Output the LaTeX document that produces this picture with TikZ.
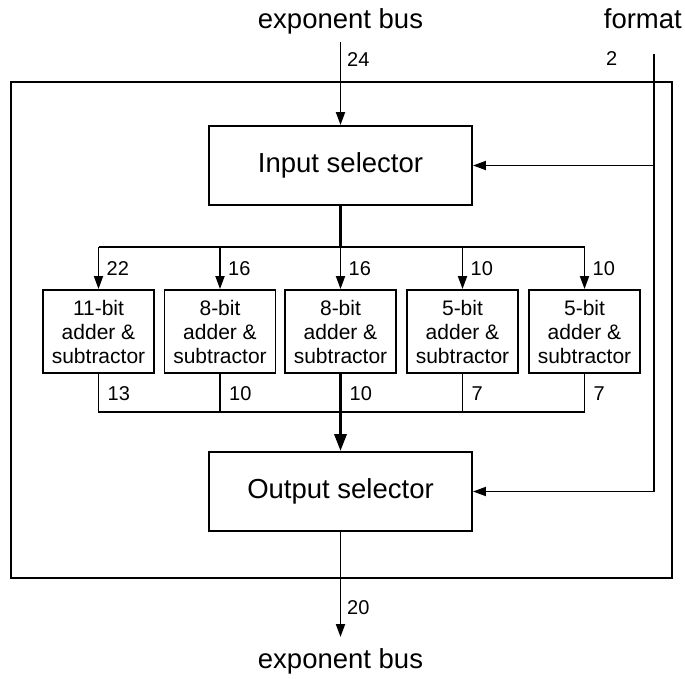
\documentclass[tikz,border=0pt]{standalone}
\usepackage{fontspec}
\setmainfont{Liberation Sans}
\usetikzlibrary{arrows.meta}
\begin{document}
\begin{tikzpicture}[x=1pt,y=-1pt,
  ln/.style={line width=1.9pt},
  bus/.style={line width=3.2pt},
  arr/.style={-{Triangle[length=13pt,width=9pt]}},
  barr/.style={-{Triangle[length=17pt,width=12pt]}},
  selbox/.style={draw,line width=1.9pt,minimum width=263pt,minimum height=79pt,inner sep=0pt,font=\fontsize{27.5}{30}\selectfont},
  addbox/.style={draw,line width=1.9pt,minimum width=111pt,minimum height=83pt,inner sep=0pt,align=center,font=\fontsize{21}{24}\selectfont},
  num/.style={anchor=base west,inner sep=0pt,font=\fontsize{20}{22}\selectfont},
  big/.style={anchor=base,inner sep=0pt,font=\fontsize{27.5}{30}\selectfont}]
\useasboundingbox (0,0) rectangle (685,679);
% outer frame
\draw[ln] (11,82) rectangle (672,578);
% texts
\node[big] (tin) at (340.5,29) {exponent bus};
\node[big,anchor=base east] (tfmt) at (682,29) {format};
\node[big] (tout) at (340.5,668) {exponent bus};
% selectors
\node[selbox] (insel) at (340.5,165.5) {Input selector};
\node[selbox] (outsel) at (340.5,491.5) {Output selector};
% adders
\node[addbox] (a1) at (98.5,331.5) {11-bit\\adder \&\\subtractor};
\node[addbox] (a2) at (220,331.5) {8-bit\\adder \&\\subtractor};
\node[addbox] (a3) at (340.5,331.5) {8-bit\\adder \&\\subtractor};
\node[addbox] (a4) at (462.5,331.5) {5-bit\\adder \&\\subtractor};
\node[addbox] (a5) at (584.5,331.5) {5-bit\\adder \&\\subtractor};
% coordinates
\coordinate (inTop) at (340.5,42);
\coordinate (fmt) at (654,54);
\coordinate (tj) at (340.5,247);
\coordinate (bj) at (340.5,412);
\coordinate (bot) at (340.5,637);
% input bus
\draw[ln,arr] (inTop) -- (insel.north);
\node[num] (l24) at (347,67) {24};
% format
\draw[ln,arr] (fmt) |- (outsel.east);
\draw[ln,arr] (fmt |- insel.east) -- (insel.east);
\node[num] (l2) at (606,66) {2};
% top distribution bus
\draw[bus] (insel.south) -- (tj);
\draw[ln] (a1.north |- tj) -- (a5.north |- tj);
\foreach \b/\t in {a1/22,a2/16,a3/16,a4/10,a5/10}{
  \draw[ln,arr] (\b.north |- tj) -- (\b.north);
  \node[num] at ([xshift=8pt]\b.north |- 0,275) {\t};
}
% bottom collection bus
\draw[ln] (a1.south) |- (a5.south |- bj) -- (a5.south);
\draw[ln] (a2.south) -- (a2.south |- bj);
\draw[ln] (a4.south) -- (a4.south |- bj);
\draw[line width=2.4pt] (a2.south |- bj) -- (a4.south |- bj);
\draw[bus] (a3.south) -- (bj);
\draw[bus,barr] (bj) -- (outsel.north);
\foreach \b/\t in {a1/13,a2/10,a3/10,a4/7,a5/7}{
  \node[num] at ([xshift=9pt]\b.south |- 0,400) {\t};
}
% output
\draw[ln,arr] (outsel.south) -- (bot);
\node[num] (l20) at (347,614) {20};
\end{tikzpicture}
\end{document}
